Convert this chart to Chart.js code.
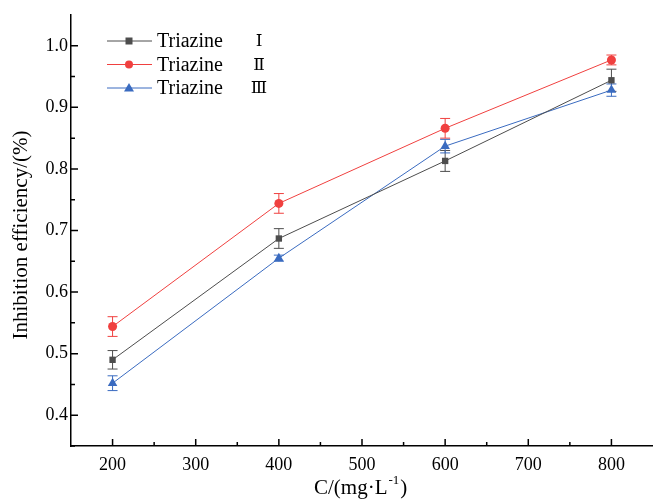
<!DOCTYPE html>
<html>
<head>
<meta charset="utf-8">
<script src="https://cdn.jsdelivr.net/npm/chart.js@4"></script>
<style>
  html, body { margin: 0; padding: 0; background: #fff; overflow: hidden; }
  #wrap { width: 653px; height: 499px; }
</style>
</head>
<body>
<div id="wrap"><canvas id="chart"></canvas></div>
<script>
// concentration (mg/L)
const concentrations = [200, 400, 600, 800];

// inhibition efficiency and error for each triazine
const triazine1 = [0.490, 0.687, 0.813, 0.944];
const triazine1Err = [0.015, 0.016, 0.017, 0.018];
const triazine2 = [0.544, 0.744, 0.866, 0.977];
const triazine2Err = [0.016, 0.016, 0.016, 0.008];
const triazine3 = [0.452, 0.655, 0.837, 0.928];
const triazine3Err = [0.012, 0.005, 0.011, 0.010];

const seriesNames = ['Triazine', 'Triazine', 'Triazine'];
const romanLabels = ['\u2160', '\u2161', '\u2162'];

// tick labels
const xTicks = [200, 300, 400, 500, 600, 700, 800];
const xMinorTicks = [250, 350, 450, 550, 650, 750];
const yTicks = [0.4, 0.5, 0.6, 0.7, 0.8, 0.9, 1.0];
const yMinorTicks = [0.35, 0.45, 0.55, 0.65, 0.75, 0.85, 0.95];

const serif = "'Liberation Serif', serif";
Chart.defaults.font.family = serif;

function toPoints(vals) {
  return concentrations.map((c, i) => ({ x: c, y: vals[i] }));
}

const errors = [triazine1Err, triazine2Err, triazine3Err];

// error bars, inward ticks, titles and legend
const extras = {
  id: 'extras',
  beforeDatasetsDraw(chart) {
    const ctx = chart.ctx;
    const xs = chart.scales.x, ys = chart.scales.y;
    chart.data.datasets.forEach((ds, di) => {
      ctx.save();
      ctx.strokeStyle = ds.borderColor;
      ctx.lineWidth = 1;
      ds.data.forEach((p, i) => {
        const e = errors[di][i];
        const px = xs.getPixelForValue(p.x);
        const top = ys.getPixelForValue(p.y + e);
        const bot = ys.getPixelForValue(p.y - e);
        ctx.beginPath();
        ctx.moveTo(px, top); ctx.lineTo(px, bot);
        ctx.moveTo(px - 5, top); ctx.lineTo(px + 5, top);
        ctx.moveTo(px - 5, bot); ctx.lineTo(px + 5, bot);
        ctx.stroke();
      });
      ctx.restore();
    });
  },
  afterDraw(chart) {
    const ctx = chart.ctx;
    const xs = chart.scales.x, ys = chart.scales.y;
    const area = chart.chartArea;
    ctx.save();
    ctx.strokeStyle = '#000';
    ctx.lineWidth = 1.5;
    ctx.beginPath();
    xTicks.forEach(v => { const p = xs.getPixelForValue(v); ctx.moveTo(p, area.bottom); ctx.lineTo(p, area.bottom - 7); });
    xMinorTicks.forEach(v => { const p = xs.getPixelForValue(v); ctx.moveTo(p, area.bottom); ctx.lineTo(p, area.bottom - 4); });
    yTicks.forEach(v => { const p = ys.getPixelForValue(v); ctx.moveTo(area.left, p); ctx.lineTo(area.left + 7, p); });
    yMinorTicks.forEach(v => { const p = ys.getPixelForValue(v); ctx.moveTo(area.left, p); ctx.lineTo(area.left + 4, p); });
    ctx.stroke();

    // axis titles
    ctx.fillStyle = '#000';
    ctx.font = '21px ' + serif;
    ctx.textBaseline = 'alphabetic';
    const main = 'C/(mg\u00B7L';
    const sup = '-1';
    const close = ')';
    const wMain = ctx.measureText(main).width;
    ctx.font = '13px ' + serif;
    const wSup = ctx.measureText(sup).width;
    const tx = 314;
    const ty = 494;
    ctx.font = '21px ' + serif;
    ctx.textAlign = 'left';
    ctx.fillText(main, tx, ty);
    ctx.font = '13px ' + serif;
    ctx.fillText(sup, tx + wMain + 1, ty - 10);
    ctx.font = '21px ' + serif;
    ctx.fillText(close, tx + wMain + wSup + 2, ty);

    ctx.save();
    ctx.translate(27, 235);
    ctx.rotate(-Math.PI / 2);
    ctx.textAlign = 'center';
    ctx.fillText('Inhibition efficiency/(%)', 0, 0);
    ctx.restore();

    // legend
    chart.data.datasets.forEach((ds, i) => {
      const y = 41 + i * 23.5;
      ctx.strokeStyle = ds.borderColor;
      ctx.lineWidth = 1;
      ctx.beginPath();
      ctx.moveTo(107, y); ctx.lineTo(152, y);
      ctx.stroke();
      ctx.fillStyle = ds.pointBackgroundColor;
      const m = 129;
      ctx.beginPath();
      if (ds.pointStyle === 'rect') {
        ctx.rect(m - 3.5, y - 3.5, 7, 7);
      } else if (ds.pointStyle === 'circle') {
        ctx.arc(m, y, 4, 0, Math.PI * 2);
      } else {
        ctx.moveTo(m, y - 5); ctx.lineTo(m + 5, y + 3.5); ctx.lineTo(m - 5, y + 3.5); ctx.closePath();
      }
      ctx.fill();
      ctx.fillStyle = '#000';
      ctx.font = '20px ' + serif;
      ctx.textAlign = 'left';
      ctx.textBaseline = 'middle';
      ctx.fillText(seriesNames[i], 157, y + 1);
      ctx.textAlign = 'center';
      ctx.font = "17px 'DejaVu Serif', " + serif;
      ctx.fillText(romanLabels[i], 259, y + 1);
    });
    ctx.restore();
  }
};

const chart = new Chart(document.getElementById('chart'), {
  type: 'line',
  data: {
    datasets: [
      { label: 'Triazine I', data: toPoints(triazine1), borderColor: '#4d4d4d', pointBackgroundColor: '#4d4d4d', pointStyle: 'rect', pointRadius: 4.5 },
      { label: 'Triazine II', data: toPoints(triazine2), borderColor: '#f0403f', pointBackgroundColor: '#f0403f', pointStyle: 'circle', pointRadius: 4.5 },
      { label: 'Triazine III', data: toPoints(triazine3), borderColor: '#3a6bc0', pointBackgroundColor: '#3a6bc0', pointStyle: 'triangle', pointRadius: 5.5 }
    ].map(d => Object.assign(d, { borderWidth: 1, pointBorderWidth: 0, pointBorderColor: d.borderColor, fill: false, tension: 0 }))
  },
  options: {
    responsive: true,
    maintainAspectRatio: false,
    animation: false,
    layout: { autoPadding: false, padding: { top: 15, right: 0, left: 0, bottom: 0 } },
    plugins: { legend: { display: false }, tooltip: { enabled: false } },
    scales: {
      x: {
        type: 'linear',
        min: 150,
        max: 850,
        afterBuildTicks: s => { s.ticks = xTicks.map(v => ({ value: v })); },
        afterFit: s => { s.height = 53; s.paddingLeft = 0; s.paddingRight = 0; },
        grid: { display: false, drawTicks: false },
        border: { display: true, color: '#000', width: 1.5 },
        ticks: { color: '#000', padding: 8, font: { family: serif, size: 18 } }
      },
      y: {
        min: 0.35,
        max: 1.05,
        afterBuildTicks: s => { s.ticks = yTicks.map(v => ({ value: v })); },
        afterFit: s => { s.width = 71; s.paddingTop = 0; s.paddingBottom = 0; },
        grid: { display: false, drawTicks: false },
        border: { display: true, color: '#000', width: 1.5 },
        ticks: { color: '#000', padding: 3, font: { family: serif, size: 18 }, callback: v => v.toFixed(1) }
      }
    }
  },
  plugins: [extras]
});
</script>
</body>
</html>
